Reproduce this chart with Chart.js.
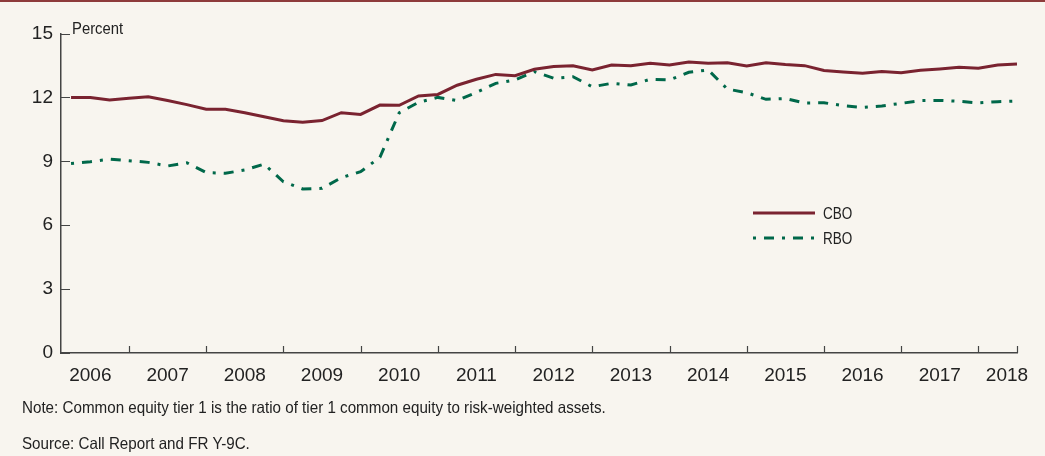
<!DOCTYPE html>
<html><head><meta charset="utf-8">
<script src="https://cdn.jsdelivr.net/npm/chart.js@4.4.1/dist/chart.umd.min.js"></script>
<style>
html,body{margin:0;padding:0;background:#f8f5ef;}
#wrap{position:relative;width:1045px;height:456px;background:#f8f5ef;overflow:hidden;font-family:'Liberation Sans','Arial',sans-serif;color:#222;}
#topbar{position:absolute;left:0;top:0;width:1045px;height:2px;background:#8e3b3b;}
canvas{position:absolute;left:0;top:0;}
.txt{position:absolute;font-size:16.5px;white-space:nowrap;line-height:18px;transform:scaleX(0.92);transform-origin:0 0;}
</style></head><body>
<div id="wrap">
<canvas id="c" width="1045" height="456" style="width:1045px;height:456px"></canvas>
<div id="topbar"></div>
<div class="txt" style="left:72px;top:19px;transform:scaleX(0.9)">Percent</div>
<div class="txt" style="left:22px;top:398px">Note: Common equity tier 1 is the ratio of tier 1 common equity to risk-weighted assets.</div>
<div class="txt" style="left:22px;top:434px">Source: Call Report and FR Y-9C.</div>
</div>
<script>
const FONT = "'Liberation Sans','Arial',sans-serif";
const seriesNames = ['CBO', 'RBO'];
const quarters = [
 '2006Q1','2006Q2','2006Q3','2006Q4','2007Q1','2007Q2','2007Q3','2007Q4',
 '2008Q1','2008Q2','2008Q3','2008Q4','2009Q1','2009Q2','2009Q3','2009Q4',
 '2010Q1','2010Q2','2010Q3','2010Q4','2011Q1','2011Q2','2011Q3','2011Q4',
 '2012Q1','2012Q2','2012Q3','2012Q4','2013Q1','2013Q2','2013Q3','2013Q4',
 '2014Q1','2014Q2','2014Q3','2014Q4','2015Q1','2015Q2','2015Q3','2015Q4',
 '2016Q1','2016Q2','2016Q3','2016Q4','2017Q1','2017Q2','2017Q3','2017Q4',
 '2018Q1','2018Q2'];
const cbo = [12.0,12.0,11.88,11.96,12.03,11.85,11.66,11.44,11.44,11.28,11.09,10.9,10.83,10.91,11.28,11.2,
 11.64,11.63,12.07,12.14,12.57,12.85,13.08,13.02,13.32,13.45,13.49,13.29,13.52,13.49,13.6,13.52,
 13.66,13.6,13.63,13.47,13.63,13.54,13.49,13.26,13.19,13.13,13.22,13.16,13.27,13.33,13.41,13.37,13.52,13.57];
const rbo = [8.9,8.98,9.1,9.03,8.95,8.78,8.93,8.47,8.44,8.59,8.87,8.04,7.7,7.73,8.23,8.51,
 9.19,11.28,11.77,12.0,11.85,12.24,12.66,12.82,13.21,12.9,12.97,12.5,12.66,12.58,12.85,12.82,
 13.18,13.29,12.39,12.22,11.91,11.95,11.74,11.75,11.61,11.53,11.6,11.72,11.85,11.86,11.82,11.74,11.8,11.83];
const yearLabels = ['2006','2007','2008','2009','2010','2011','2012','2013','2014','2015','2016','2017','2018'];
const yearLabelPos = [2006.5,2007.5,2008.5,2009.5,2010.5,2011.5,2012.5,2013.5,2014.5,2015.5,2016.5,2017.5,2018.37];
const yearBoundaries = [2007,2008,2009,2010,2011,2012,2013,2014,2015,2016,2017,2018,2018.5];
const yTicks = [0,3,6,9,12,15];

// quarter-end positions on a continuous year axis
function qx(q){ const y = parseInt(q.slice(0,4)); const n = parseInt(q.slice(5)); return y + n/4; }
const toPts = arr => arr.map((v,i)=>({x: qx(quarters[i]), y: v}));

const AXIS = '#444';
const innerTicks = {
  id:'innerTicks',
  afterDraw(chart){
    const ctx = chart.ctx, xs = chart.scales.x, ys = chart.scales.y;
    ctx.save();
    ctx.strokeStyle = AXIS; ctx.lineWidth = 1.2;
    ctx.beginPath();
    yTicks.forEach(v=>{ const py = Math.round(ys.getPixelForValue(v))+0.5; ctx.moveTo(xs.left, py); ctx.lineTo(xs.left+9, py); });
    yearBoundaries.forEach(v=>{ const px = Math.round(xs.getPixelForValue(v))+0.5; ctx.moveTo(px, ys.bottom); ctx.lineTo(px, ys.bottom-7); });
    ctx.stroke();
    // legend
    const items = chart.data.datasets;
    const rows = [213, 238];
    items.forEach((ds,i)=>{
      const y = rows[i];
      ctx.strokeStyle = ds.borderColor; ctx.lineWidth = ds.borderWidth;
      ctx.setLineDash(ds.borderDash || []);
      ctx.lineCap = 'butt';
      ctx.beginPath(); ctx.moveTo(753, y); ctx.lineTo(815, y); ctx.stroke();
      ctx.setLineDash([]);
      ctx.save();
      ctx.translate(823, y+1); ctx.scale(0.82, 1);
      ctx.fillStyle = '#222'; ctx.font = '16.5px ' + FONT; ctx.textBaseline = 'middle'; ctx.textAlign='left';
      ctx.fillText(ds.label, 0, 0);
      ctx.restore();
    });
    ctx.restore();
  }
};

new Chart(document.getElementById('c'), {
  type:'line',
  data:{ datasets:[
    {label:seriesNames[0], data:toPts(cbo), borderColor:'#7a2330', borderWidth:3, pointRadius:0, tension:0, fill:false, borderCapStyle:'butt', clip:false},
    {label:seriesNames[1], data:toPts(rbo), borderColor:'#00684a', borderWidth:3, borderDash:[3,8,10,8], pointRadius:0, tension:0, fill:false, borderCapStyle:'butt', clip:false}
  ]},
  options:{
    responsive:false, animation:false, devicePixelRatio:1,
    layout:{ padding:{ left:0, top:33.5, right:28, bottom:0 } },
    plugins:{ legend:{display:false}, tooltip:{enabled:false}, title:{display:false} },
    scales:{
      x:{ type:'linear', min:2006.12, max:2018.5,
        afterBuildTicks: s => { s.ticks = yearLabelPos.map(v=>({value:v})); },
        afterFit: s => { s.height = 103; },
        ticks:{ autoSkip:false, maxRotation:0, padding:11, color:'#222', font:{family:FONT, size:19},
          callback:(v,i)=>yearLabels[i] },
        grid:{ drawOnChartArea:false, drawTicks:false },
        border:{ display:true, color:AXIS, width:1.5 }
      },
      y:{ min:0, max:15,
        afterBuildTicks: s => { s.ticks = yTicks.map(v=>({value:v})); },
        afterFit: s => { s.width = 61; },
        ticks:{ padding:8, color:'#222', font:{family:FONT, size:19} },
        grid:{ drawOnChartArea:false, drawTicks:false },
        border:{ display:true, color:AXIS, width:1.5 }
      }
    }
  },
  plugins:[innerTicks]
});
</script>
</body></html>
